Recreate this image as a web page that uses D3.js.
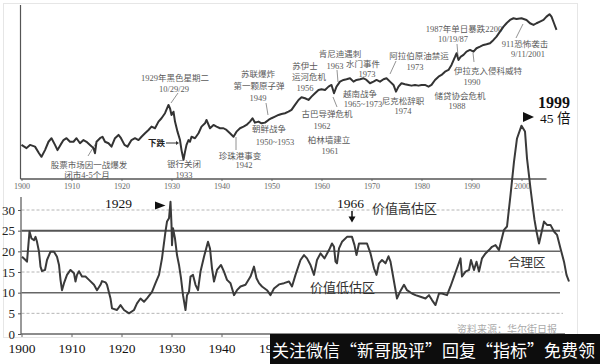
<!DOCTYPE html>
<html>
<head>
<meta charset="utf-8">
<script src="https://cdn.jsdelivr.net/npm/d3@7"></script>
<style>
body{margin:0;background:#fff;}
svg{display:block;}
</style>
</head>
<body>
<svg id="chart" width="600" height="364"></svg>
<script>
// Dow index (top panel, log scale), [year, value]
const dowSeries = [
[1900,71],[1901,62],[1901.7,71],[1902.7,66],[1903.5,50],[1904,43],[1904.7,57],[1905.4,81],[1906,94],[1906.7,71],
[1907.2,57],[1907.8,71],[1908.4,87],[1909,94],[1909.7,81],[1910.4,81],[1911,94],[1911.7,76],[1912.4,87],[1913,81],
[1913.7,71],[1914.4,62],[1914.7,50],[1915,81],[1915.7,94],[1916.2,100],[1916.7,81],[1917.4,76],[1918,66],[1918.7,94],
[1919.4,108],[1919.9,94],[1920.6,71],[1921.2,66],[1922,87],[1922.7,94],[1923.4,87],[1924,100],[1924.7,116],[1925.4,133],
[1926,153],[1926.7,143],[1927.4,189],[1928,218],[1928.7,269],[1929.4,381],[1929.7,331],[1930,250],[1930.4,287],[1930.7,189],
[1931.2,124],[1931.7,87],[1932,57],[1932.4,38],[1932.7,53],[1933,71],[1933.4,87],[1933.7,81],[1934,100],[1934.7,94],
[1935.4,116],[1936,153],[1936.7,176],[1937,203],[1937.7,143],[1938.4,164],[1939,153],[1939.7,143],[1940.4,143],[1941,133],
[1941.7,116],[1942.4,100],[1943,124],[1943.7,143],[1944.4,153],[1945,164],[1945.7,189],[1946.2,218],[1946.7,181],[1947.4,189],
[1948,176],[1948.7,181],[1949.4,203],[1950,218],[1950.7,233],[1951.4,250],[1952,261],[1952.7,269],[1953.4,287],[1954,309],
[1954.7,381],[1955.4,470],[1956,527],[1956.7,505],[1957.4,470],[1958,540],[1958.7,623],[1959.4,716],[1960,737],[1960.7,716],
[1961.4,823],[1962,884],[1962.5,623],[1963,823],[1963.7,1015],[1964.4,1090],[1965,1123],[1965.7,1171],[1966.4,1015],[1967,1090],
[1967.7,1123],[1968.4,1171],[1969,1090],[1969.7,949],[1970.4,1015],[1971,1090],[1971.7,1015],[1972.4,1123],[1973,1171],[1973.7,1015],
[1974.4,884],[1974.9,666],[1975.4,823],[1976,949],[1976.7,910],[1977.4,884],[1978,858],[1978.7,884],[1979.4,858],[1980,884],
[1980.7,884],[1981.4,823],[1982,884],[1982.7,1090],[1983.4,1252],[1984,1345],[1984.7,1545],[1985.4,1660],[1986,2048],[1986.7,2870],
[1987,3350],[1987.4,2530],[1987.8,2870],[1988.4,3120],[1989,3584],[1989.7,3850],[1990.4,3584],[1991,4135],[1991.7,4423],[1992.4,4750],
[1993,4892],[1993.7,5103],[1994.4,5862],[1995,6735],[1995.7,8310],[1996.4,10255],[1997,11834],[1997.7,13595],[1998.4,14600],[1999,14180],
[2000,14600],[2001,13595],[2001.7,11834],[2002.4,11015],[2003,11834],[2003.7,12660],[2004.4,13595],[2005,15620],[2005.6,17280],[2006,15620],
[2006.5,11834],[2007,8928]
];

// Shiller P/E (bottom panel), [year, value]
const capeSeries = [
[1900.1,18.7],[1900.8,17.9],[1901.1,17.5],[1901.6,24.8],[1902,23.1],[1902.5,22.7],[1902.8,23.5],[1903.1,22.3],[1903.5,19.9],[1903.8,16.3],
[1904.1,15.2],[1904.7,15.5],[1905.1,17.9],[1905.8,19.9],[1906.5,19.9],[1907.1,18.7],[1907.5,16.7],[1907.8,13.1],[1908.1,10.6],[1908.5,12.3],
[1909.1,14.3],[1909.8,15.5],[1910.5,14.7],[1910.8,12.7],[1911.1,14.3],[1911.5,15.2],[1912.1,13.9],[1912.8,13.9],[1913.5,13.1],[1914.5,11.9],
[1915.1,10.6],[1915.8,11.9],[1916.1,12.8],[1916.8,12.5],[1917.1,11.9],[1917.8,8.6],[1918.1,6.2],[1919.1,5.8],[1919.8,7.0],[1920.5,5.8],
[1921.5,5.0],[1922.5,5.8],[1923.1,7.4],[1923.8,8.6],[1924.5,7.8],[1925.1,8.6],[1926.1,10.2],[1926.8,12.3],[1927.5,14.3],[1928.1,18.3],
[1928.8,24.8],[1929.1,27.2],[1929.5,28.0],[1929.8,32.0],[1930,26.4],[1930.1,21.5],[1930.3,25.6],[1930.7,23.1],[1931.1,19.1],[1931.5,16.7],
[1931.9,13.5],[1932.3,9.4],[1932.8,5.8],[1933.1,9.4],[1933.5,10.2],[1933.8,13.9],[1934.3,14.3],[1934.8,11.9],[1935.3,10.6],[1935.8,15.1],
[1936.5,18.7],[1937.3,22.3],[1937.7,20.7],[1938.1,15.9],[1938.5,12.7],[1939.1,15.5],[1939.9,16.7],[1940.5,15.1],[1941.1,13.1],[1941.8,12.3],
[1942.5,9.4],[1943.1,10.6],[1943.8,11.5],[1944.8,11.9],[1945.8,13.9],[1946.5,16.3],[1947,13.5],[1947.5,12.3],[1948.1,11.5],[1949.1,10.6],
[1949.8,9.4],[1950.5,11.0],[1951.5,12.0],[1952.5,12.3],[1953.5,12.7],[1954.1,11.5],[1954.8,14.3],[1955.8,17.9],[1956.5,19.1],[1957.1,18.3],
[1957.8,16.7],[1958.5,14.3],[1959.1,17.9],[1959.8,19.5],[1960.6,18.3],[1961.5,20.3],[1962.1,21.9],[1962.5,21.1],[1962.8,17.5],[1963.1,17.1],
[1963.5,20.7],[1964.1,22.3],[1965.1,23.5],[1966.1,23.5],[1966.6,21.5],[1967,19.1],[1967.5,21.9],[1968.5,21.9],[1969.1,21.9],[1969.8,19.5],
[1970.5,15.9],[1971,14.3],[1971.5,17.1],[1972.1,17.9],[1972.8,17.1],[1973.4,18.8],[1973.8,17.5],[1974.5,12.7],[1975.1,8.6],[1975.7,10.2],
[1976.5,11.9],[1977.1,10.6],[1978.1,9.8],[1978.8,9.4],[1979.8,9.0],[1980.8,8.6],[1981.5,9.4],[1982.1,8.2],[1982.8,7.0],[1983.5,9.8],
[1984.1,9.8],[1985.1,9.4],[1985.8,11.5],[1986.5,13.9],[1987.1,15.9],[1987.8,18.3],[1988.1,13.9],[1988.8,15.1],[1989.5,15.5],[1989.9,17.9],
[1990.5,15.5],[1991,17.5],[1991.5,15.1],[1992.1,18.3],[1992.8,19.5],[1993.5,20.3],[1994.1,21.1],[1994.8,21.5],[1995.5,20.3],[1995.9,22.3],
[1996.5,25.2],[1997.1,26.0],[1997.8,33.6],[1998.5,41.7],[1999.1,47.3],[2000,50.4],[2000.7,49.0],[2001.1,42.5],[2001.8,35.2],[2002.3,30.4],
[2002.6,27.6],[2003,24.8],[2003.5,21.9],[2003.9,24.0],[2004.5,27.2],[2005.1,26.4],[2005.8,26.4],[2006.5,24.8],[2007.1,24.0],[2007.8,20.7],
[2008.5,17.5],[2009,14.3],[2009.5,12.7]
];

const decadeTicks = [1900,1910,1920,1930,1940,1950,1960,1970,1980,1990,2000];
const bottomLabelTicks = [1900,1910,1920,1930,1940,1950];  // the rest sit under the banner
const peTicks = [0,5,10,15,20,25,30];
const solidLevels = [25,20,10];
const dashedLevels = [30,15,5];

// event notes in the top panel: [text, x, baseline]
const topNotes = [
  ["股票市场因一战爆发",89,167.5],["闭市4-5个月",87,177.5],
  ["1929年黑色星期二",175,80.5],["10/29/29",174,92],
  ["银行关闭",184,166.5],["1933",184,177.5],
  ["珍珠港事变",240,158.5],["1942",244,168],
  ["朝鲜战争",269,131.5],["1950~1953",275,145],
  ["苏联爆炸",258,76.5],["第一颗原子弹",259,88.5],["1949",258,100.5],
  ["苏伊士",305,68.5],["运河危机",309,80],["1956",305,90.5],
  ["肯尼迪遇刺",340,56.5],["1963",335,68.5],
  ["水门事件",363,66.5],["1973",367,76.5],
  ["越南战争",360,96.5],["1965~1973",363,107],
  ["古巴导弹危机",327,116.5],["1962",322,128.5],
  ["柏林墙建立",329,142.5],["1961",330,153.5],
  ["阿拉伯原油禁运",419,58.5],["1973",415,70],
  ["尼克松辞职",403,103.5],["1974",403,114],
  ["1987年单日暴跌2200",464,31.5],["10/19/87",453,41.5],
  ["911恐怖袭击",525,46.5],["9/11/2001",528,56.5],
  ["伊拉克入侵科威特",488,73.5],["1990",472,84.5],
  ["储贷协会危机",460,98.5],["1988",457,108.5]
];
const leaders = [
  [88,156,96,143],[178,93,171,103],[236,150,236,137],[266,103,268,115],
  [333,97,337,107],[337,70,338,82],[396,61,390,74],[457,44,458,56],
  [523,24,516,38],[473,53,474,62]
];

const svg = d3.select('#chart');
const serif = "'Liberation Serif','Noto Sans CJK SC',serif";
const cjk = "'Noto Sans CJK SC','Liberation Serif',sans-serif";

const x = d3.scaleLinear().domain([1900, 2010]).range([21.5, 571.5]);
const yTop = d3.scaleLog().domain([10, 100000]).range([191.5, -27.5]);
const yBot = d3.scaleLinear().domain([0, 30]).range([334, 210]);

// faint scan border
svg.append('rect').attr('x',3.5).attr('y',3.5).attr('width',574).attr('height',334)
  .attr('fill','none').attr('stroke','#e6e6e6');

// ---------- top panel ----------
svg.append('line').attr('x1',20.5).attr('x2',20.5).attr('y1',5).attr('y2',179)
  .attr('stroke','#555').attr('stroke-width',1.2);

const axTop = svg.append('g').attr('transform','translate(0,179)')
  .call(d3.axisBottom(x).tickValues(decadeTicks).tickSize(2).tickPadding(2).tickFormat(d3.format('d')));
axTop.select('.domain').remove();
axTop.selectAll('.tick line').attr('stroke','#777');
axTop.selectAll('text').attr('font-family',serif).attr('font-size',8).attr('fill','#666');
svg.append('line').attr('x1',x(1900)-1).attr('x2',x(2005)).attr('y1',179).attr('y2',179)
  .attr('stroke','#555').attr('stroke-width',1.3);

svg.append('g').selectAll('line').data(leaders).join('line')
  .attr('x1',d=>d[0]).attr('y1',d=>d[1]).attr('x2',d=>d[2]).attr('y2',d=>d[3])
  .attr('stroke','#777').attr('stroke-width',0.8);

svg.append('g').selectAll('text').data(topNotes).join('text')
  .attr('x',d=>d[1]).attr('y',d=>d[2]).attr('text-anchor','middle')
  .attr('font-family',serif).attr('font-size',8.5).attr('fill','#5a5a5a')
  .text(d=>d[0]);

svg.append('text').attr('x',148).attr('y',145.5).attr('font-family',cjk)
  .attr('font-size',8.5).attr('font-weight','bold').attr('fill','#222').text('下跌');
svg.append('line').attr('x1',166).attr('x2',176).attr('y1',143).attr('y2',143)
  .attr('stroke','#333').attr('stroke-width',1);
svg.append('path').attr('d','M176,141 L179,143 L176,145Z').attr('fill','#333');

const dowLine = d3.line().x(d => x(d[0])).y(d => yTop(d[1]));
svg.append('path').datum(dowSeries).attr('d',dowLine)
  .attr('fill','none').attr('stroke','#333').attr('stroke-width',2).attr('stroke-linejoin','round');

// ---------- bottom panel ----------
const gridS = svg.append('g');
gridS.selectAll('line.s').data(solidLevels).join('line').attr('class','s')
  .attr('x1',x(1900)).attr('x2',560).attr('y1',d=>yBot(d)).attr('y2',d=>yBot(d))
  .attr('stroke',d=>d===25?'#555':'#666').attr('stroke-width',d=>d===25?2:1.5);
gridS.selectAll('line.d').data(dashedLevels).join('line').attr('class','d')
  .attr('x1',x(1900)).attr('x2',563).attr('y1',d=>yBot(d)).attr('y2',d=>yBot(d))
  .attr('stroke','#b5b5b5').attr('stroke-width',1).attr('stroke-dasharray','3,2');

const axY = svg.append('g').attr('transform','translate(21,0)')
  .call(d3.axisLeft(yBot).tickValues(peTicks).tickSize(3).tickPadding(3));
axY.select('.domain').attr('d','M0,197V334').attr('stroke','#555').attr('stroke-width',1.2);
axY.selectAll('.tick line').attr('stroke','#555');
axY.selectAll('text').attr('font-family',serif).attr('font-size',13).attr('fill','#222');

const axB = svg.append('g').attr('transform','translate(0,334)')
  .call(d3.axisBottom(x).tickValues(decadeTicks).tickSize(3).tickPadding(6)
    .tickFormat(d => bottomLabelTicks.includes(d) ? String(d) : ''));
axB.select('.domain').attr('d',`M${x(1900)-0.5},0H565`).attr('stroke','#666').attr('stroke-width',1.3);
axB.selectAll('.tick line').attr('stroke','#666');
axB.selectAll('text').attr('font-family',serif).attr('font-size',13.5).attr('fill','#111');
// 1950 is cut by the banner: only "19" shows
axB.selectAll('.tick').filter(d => d === 1950).select('text')
  .text('19').attr('text-anchor','start').attr('x',-13);

const capeLine = d3.line().x(d => x(d[0])).y(d => yBot(d[1]));
svg.append('path').datum(capeSeries).attr('d',capeLine)
  .attr('fill','none').attr('stroke','#3a3a3a').attr('stroke-width',2).attr('stroke-linejoin','round');

// bottom labels
svg.append('text').attr('x',105).attr('y',208).attr('font-family',serif).attr('font-size',13.5).attr('fill','#111').text('1929');
svg.append('path').attr('d','M155,201.5 L165.5,205.5 L155,209.5Z').attr('fill','#111');
svg.append('text').attr('x',337).attr('y',208).attr('font-family',serif).attr('font-size',13.5).attr('fill','#111').text('1966');
svg.append('line').attr('x1',352).attr('x2',352).attr('y1',211).attr('y2',218).attr('stroke','#111').attr('stroke-width',1.5);
svg.append('path').attr('d','M348.5,216.5 L352,222.5 L355.5,216.5Z').attr('fill','#111');
svg.append('text').attr('x',372).attr('y',212.5).attr('font-family',cjk).attr('font-size',13).attr('fill','#333').text('价值高估区');
svg.append('text').attr('x',310).attr('y',291.5).attr('font-family',cjk).attr('font-size',13).attr('fill','#333').text('价值低估区');
svg.append('text').attr('x',508).attr('y',266.5).attr('font-family',cjk).attr('font-size',12.5).attr('fill','#333').text('合理区');
svg.append('text').attr('x',538).attr('y',108).attr('font-family',serif).attr('font-size',16).attr('font-weight','bold').attr('fill','#111').text('1999');
svg.append('text').attr('x',540).attr('y',122.5).attr('font-family',serif).attr('font-size',13.5).attr('fill','#111').text('45 倍');
svg.append('path').attr('d','M523,112 L534,117 L523,122Z').attr('fill','#111');

// source note just above the banner
svg.append('text').attr('x',557).attr('y',333).attr('text-anchor','end')
  .attr('font-family',cjk).attr('font-size',10).attr('fill','#aaa').text('资料来源：华尔街日报');

// watermark banner
svg.append('rect').attr('x',270).attr('y',334).attr('width',330).attr('height',30).attr('fill','#0d0d0d');
svg.append('text').attr('x',272).attr('y',356.5).attr('font-family',cjk).attr('font-size',17)
  .attr('fill','#fff').text('关注微信“新哥股评”回复“指标”免费领');
</script>
</body>
</html>
